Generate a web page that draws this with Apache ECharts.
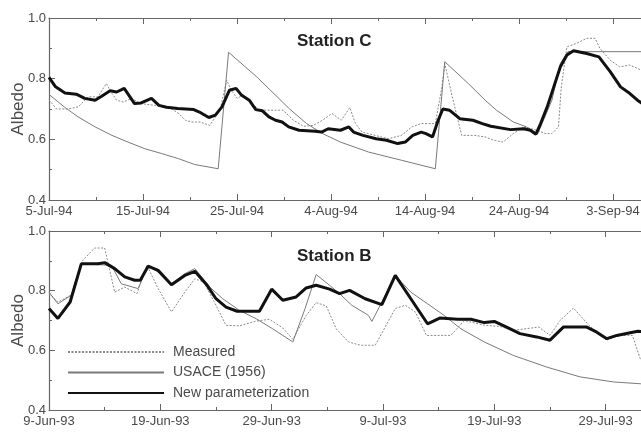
<!DOCTYPE html>
<html>
<head>
<meta charset="utf-8">
<script src="https://cdn.jsdelivr.net/npm/echarts@6/dist/echarts.min.js"></script>
<style>
html,body{margin:0;padding:0;background:#fff;}
#chart{width:641px;height:434px;}
</style>
</head>
<body>
<div id="chart"></div>
<script>
// x = days since first tick, y = albedo
var cTicks = ['5-Jul-94','15-Jul-94','25-Jul-94','4-Aug-94','14-Aug-94','24-Aug-94','3-Sep-94','13-Sep-94'];
var bTicks = ['9-Jun-93','19-Jun-93','29-Jun-93','9-Jul-93','19-Jul-93','29-Jul-93','8-Aug-93'];

// Station C
var cMeasured = [[0,0.73],[0.8,0.70],[2,0.70],[3.1,0.707],[4.2,0.74],[5.2,0.74],[6.1,0.784],[6.7,0.751],[7.2,0.729],[7.9,0.723],[8.8,0.735],[9.7,0.718],[11.3,0.712],[13.1,0.70],[13.8,0.685],[14.5,0.663],[15.2,0.657],[16.1,0.657],[17.1,0.646],[18.2,0.696],[18.9,0.795],[19.4,0.762],[20,0.735],[20.6,0.745],[21.4,0.723],[22.4,0.696],[23.5,0.696],[24.9,0.696],[26,0.663],[27.1,0.643],[28.1,0.646],[29.1,0.663],[30.1,0.685],[31.1,0.663],[32,0.705],[32.6,0.652],[33.3,0.624],[34.7,0.613],[36.1,0.602],[37.5,0.613],[38.6,0.641],[39.6,0.652],[41.1,0.652],[41.8,0.773],[42.1,0.85],[42.9,0.74],[43.9,0.613],[45.3,0.613],[46.4,0.608],[47.3,0.597],[48.3,0.591],[49.4,0.619],[50.5,0.641],[51.9,0.63],[52.8,0.619],[53.5,0.619],[54.2,0.641],[54.5,0.773],[55.1,0.905],[56.1,0.916],[57.2,0.933],[58.1,0.933],[58.6,0.90],[59.7,0.861],[60.7,0.839],[61.8,0.845],[63,0.828],[64,0.82]];
var cUsace = [[0,0.748],[1.7,0.705],[3.1,0.674],[4.9,0.641],[6.7,0.613],[8.4,0.591],[10.2,0.569],[12,0.553],[13.8,0.536],[15.5,0.517],[18,0.503],[19.1,0.887],[22.1,0.806],[25.6,0.70],[27.4,0.652],[29.1,0.619],[31,0.591],[34,0.558],[37.5,0.531],[41.1,0.503],[42.1,0.856],[44.6,0.784],[46.4,0.729],[47.6,0.696],[49.4,0.657],[50.8,0.641],[52,0.619],[53.5,0.729],[54.4,0.85],[55.2,0.889],[70,0.889]];
var cNew = [[0,0.804],[0.7,0.773],[1.7,0.753],[2.9,0.749],[3.8,0.735],[4.9,0.729],[5.6,0.742],[6.5,0.760],[7.2,0.756],[8,0.768],[9.1,0.718],[9.8,0.72],[10.9,0.735],[11.7,0.712],[12.5,0.706],[13.7,0.702],[15.4,0.698],[16,0.69],[17,0.672],[17.7,0.68],[18.4,0.707],[19.2,0.762],[19.9,0.768],[20.5,0.745],[21.3,0.729],[22,0.698],[22.7,0.694],[23.4,0.674],[24.1,0.663],[24.8,0.657],[25.5,0.641],[26.6,0.63],[28.3,0.627],[29,0.624],[29.7,0.635],[31,0.63],[31.9,0.641],[32.4,0.624],[33.4,0.613],[34.8,0.602],[35.9,0.597],[37.1,0.586],[37.9,0.591],[38.7,0.613],[39.6,0.624],[40.1,0.619],[40.8,0.608],[41.4,0.663],[41.9,0.70],[42.6,0.696],[43.7,0.668],[45.1,0.663],[46.1,0.652],[47,0.643],[49.1,0.632],[50.5,0.635],[51.2,0.63],[51.8,0.617],[52.3,0.652],[53,0.707],[53.7,0.773],[54.4,0.839],[55.1,0.878],[55.8,0.892],[57.2,0.883],[58.5,0.872],[59.7,0.823],[60.8,0.773],[61.8,0.751],[62.6,0.729],[64,0.70]];

// Station B
var bMeasured = [[0,0.79],[0.8,0.762],[2,0.785],[3,0.90],[4.1,0.943],[5,0.943],[5.9,0.795],[6.8,0.812],[7.9,0.79],[8.8,0.885],[9.8,0.807],[11,0.729],[12.2,0.795],[13.1,0.84],[13.9,0.829],[15,0.751],[15.9,0.684],[17.1,0.682],[18.6,0.698],[19.8,0.704],[21,0.675],[21.9,0.637],[23.1,0.717],[24,0.76],[24.9,0.749],[25.8,0.672],[26.9,0.628],[28,0.617],[29.3,0.617],[31.1,0.74],[32,0.751],[32.9,0.729],[33.9,0.65],[36.1,0.65],[37.3,0.70],[39.1,0.684],[40.5,0.68],[41.7,0.667],[44,0.678],[45,0.65],[45.9,0.70],[47.1,0.742],[48.5,0.684],[50.1,0.634],[51.2,0.65],[52.4,0.65],[53.1,0.572],[54,0.55]];
var bUsace = [[0,0.795],[0.8,0.756],[2,0.785],[2.9,0.89],[5.6,0.885],[6.5,0.823],[8,0.807],[8.9,0.885],[10,0.857],[11,0.823],[12.2,0.857],[13.1,0.874],[14.5,0.81],[15.6,0.773],[17.1,0.734],[18.6,0.706],[20.1,0.672],[21.9,0.628],[23,0.74],[24,0.854],[25.2,0.818],[26.1,0.79],[27.2,0.751],[28.7,0.717],[29,0.697],[29.9,0.762],[31.1,0.851],[32.5,0.795],[34,0.756],[35.5,0.717],[37,0.672],[39.1,0.628],[41.7,0.583],[44.7,0.544],[47.7,0.511],[50.7,0.494],[53.1,0.488],[56,0.48]];
var bNew = [[0,0.74],[0.8,0.707],[1.9,0.762],[2.9,0.89],[4.4,0.89],[5,0.894],[5.9,0.874],[6.8,0.846],[7.7,0.835],[8.2,0.835],[8.9,0.882],[9.8,0.868],[11,0.82],[12.2,0.851],[13.1,0.865],[14.2,0.818],[15,0.773],[15.9,0.745],[16.9,0.731],[18.9,0.731],[20,0.805],[21,0.768],[22.2,0.779],[23.1,0.809],[24,0.818],[25.2,0.805],[26.1,0.79],[27,0.801],[28.4,0.773],[29.9,0.753],[31.1,0.851],[32.5,0.773],[34,0.689],[35.1,0.708],[36.7,0.704],[37.9,0.704],[39.1,0.693],[40,0.697],[41.1,0.678],[42.3,0.656],[43.8,0.645],[45,0.634],[46.2,0.678],[48.3,0.678],[49.2,0.661],[50.1,0.639],[51,0.65],[52.2,0.659],[52.9,0.664],[54,0.66]];

var txt = '#4a4a4a';
var frame = '#666';

function xAxisFor(grid, ticks, max, pos) {
    return {
        type: 'value', gridIndex: grid, position: pos, min: 0, max: max, interval: 10,
        axisLine: {show: true, onZero: false, lineStyle: {color: frame, width: 1.2}},
        axisTick: {show: true, inside: true, length: 6, lineStyle: {color: frame}},
        minorTick: {show: true, splitNumber: 2, length: 3, lineStyle: {color: frame}},
        splitLine: {show: false},
        axisLabel: {
            show: pos === 'bottom', color: txt, fontSize: 13, fontFamily: 'Liberation Sans', margin: 5,
            formatter: function (v) { return v % 10 === 0 ? ticks[v / 10] : ''; }
        }
    };
}

function yAxisFor(grid) {
    return {
        type: 'value', gridIndex: grid, min: 0.4, max: 1.0, interval: 0.2,
        name: 'Albedo', nameLocation: 'middle', nameGap: 22, nameMoveOverlap: false,
        nameTextStyle: {color: txt, fontSize: 17, fontFamily: 'Liberation Sans'},
        axisLine: {show: true, lineStyle: {color: frame, width: 1.2}},
        axisTick: {show: true, inside: true, length: 6, lineStyle: {color: frame}},
        minorTick: {show: true, splitNumber: 2, length: 3, lineStyle: {color: frame}},
        splitLine: {show: false},
        axisLabel: {color: txt, fontSize: 13, fontFamily: 'Liberation Sans', margin: 3,
            formatter: function (v) { return v.toFixed(1); }}
    };
}

function lineSeries(name, data, idx, style) {
    return {
        name: name, type: 'line', xAxisIndex: idx, yAxisIndex: idx / 2 | 0,
        data: data, symbol: 'none', showSymbol: false, color: style.color,
        lineStyle: style, z: style.width > 2 ? 5 : 3
    };
}

var measuredStyle = {color: '#8a8a8a', width: 1, type: [2, 1.5]};
var usaceStyle = {color: '#7a7a7a', width: 1};
var newStyle = {color: '#111', width: 3};

var myChart = echarts.init(document.getElementById('chart'));
var option = {
    backgroundColor: '#fff',
    animation: false,
    title: [
        {text: 'Station C', left: 292, top: 28, textStyle: {fontSize: 17, fontWeight: 'bold', color: '#222', fontFamily: 'Liberation Sans'}},
        {text: 'Station B', left: 292, top: 243, textStyle: {fontSize: 17, fontWeight: 'bold', color: '#222', fontFamily: 'Liberation Sans'}}
    ],
    legend: {
        orient: 'vertical', left: 67, top: 345, padding: 0, itemWidth: 96, itemHeight: 14, itemGap: 6.5,
        itemStyle: {opacity: 0},
        textStyle: {color: txt, fontSize: 14, fontFamily: 'Liberation Sans', padding: [0, 0, 0, 4]},
        data: ['Measured', 'USACE (1956)', 'New parameterization']
    },
    grid: [
        {left: 49, top: 18, width: 658, height: 182, outerBoundsMode: 'none', containLabel: false},
        {left: 49, top: 231, width: 668, height: 179, outerBoundsMode: 'none', containLabel: false}
    ],
    xAxis: [
        xAxisFor(0, cTicks, 70, 'bottom'),
        xAxisFor(0, cTicks, 70, 'top'),
        xAxisFor(1, bTicks, 60, 'bottom'),
        xAxisFor(1, bTicks, 60, 'top')
    ],
    yAxis: [yAxisFor(0), yAxisFor(1)],
    series: [
        lineSeries('Measured', cMeasured, 0, measuredStyle),
        lineSeries('USACE (1956)', cUsace, 0, usaceStyle),
        lineSeries('New parameterization', cNew, 0, newStyle),
        lineSeries('Measured', bMeasured, 2, measuredStyle),
        lineSeries('USACE (1956)', bUsace, 2, usaceStyle),
        lineSeries('New parameterization', bNew, 2, newStyle)
    ]
};
myChart.setOption(option);
</script>
</body>
</html>
